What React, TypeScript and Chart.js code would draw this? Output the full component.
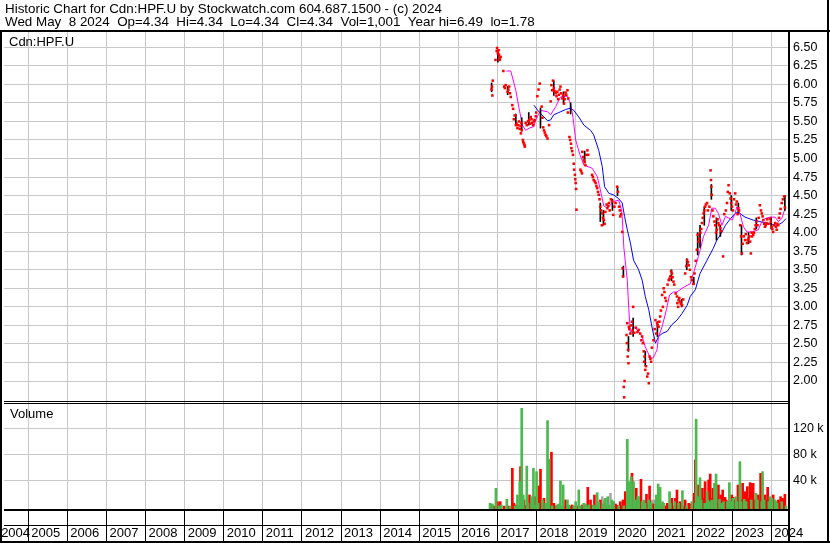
import React, { useEffect, useRef } from "react";
import { Chart, registerables } from "chart.js";

Chart.register(...registerables);

// ---------- text ----------
const headerLine1 = "Historic Chart for Cdn:HPF.U by Stockwatch.com 604.687.1500 - (c) 2024";
const headerLine2 = "Wed May  8 2024  Op=4.34  Hi=4.34  Lo=4.34  Cl=4.34  Vol=1,001  Year hi=6.49  lo=1.78";
const priceLabel = "Cdn:HPF.U";
const volumeLabel = "Volume";

// ---------- axes ----------
const yearTicks = [2004, 2005, 2006, 2007, 2008, 2009, 2010, 2011, 2012, 2013, 2014, 2015, 2016, 2017, 2018, 2019, 2020, 2021, 2022, 2023, 2024];
const yearLabels = ["2004", "2005", "2006", "2007", "2008", "2009", "2010", "2011", "2012", "2013", "2014", "2015", "2016", "2017", "2018", "2019", "2020", "2021", "2022", "2023", "2024"];
const xMin = 2004.38;
const xMax = 2024.43;
const priceTicks = [2.0, 2.25, 2.5, 2.75, 3.0, 3.25, 3.5, 3.75, 4.0, 4.25, 4.5, 4.75, 5.0, 5.25, 5.5, 5.75, 6.0, 6.25, 6.5];
const priceMin = 1.717;
const priceMax = 6.706;
const volumeTicks = [40000, 80000, 120000];
const volumeMin = -4150;
const volumeMax = 160460;

// ---------- daily closes (red marks) ----------
const closeYears = [
  2016.85, 2016.86, 2016.87, 2016.88, 2016.95, 2016.98, 2016.99, 2017.01, 2017.03, 2017.04,
  2017.05, 2017.06, 2017.08, 2017.15, 2017.17, 2017.19, 2017.21, 2017.26, 2017.28, 2017.30,
  2017.32, 2017.34, 2017.38, 2017.40, 2017.42, 2017.44, 2017.47, 2017.49, 2017.51, 2017.53,
  2017.55, 2017.57, 2017.59, 2017.60, 2017.61, 2017.62, 2017.65, 2017.66, 2017.68, 2017.69,
  2017.70, 2017.72, 2017.75, 2017.78, 2017.81, 2017.83, 2017.85, 2017.87, 2017.89, 2017.91,
  2017.93, 2017.95, 2017.98, 2017.99, 2018.02, 2018.05, 2018.08, 2018.13, 2018.15, 2018.17,
  2018.19, 2018.21, 2018.23, 2018.25, 2018.28, 2018.32, 2018.36, 2018.38, 2018.40, 2018.42,
  2018.44, 2018.46, 2018.49, 2018.51, 2018.53, 2018.55, 2018.57, 2018.59, 2018.61, 2018.63,
  2018.66, 2018.68, 2018.70, 2018.72, 2018.74, 2018.76, 2018.79, 2018.80, 2018.81, 2018.84,
  2018.86, 2018.88, 2018.89, 2018.91, 2018.93, 2018.95, 2018.96, 2018.98, 2018.99, 2019.00,
  2019.01, 2019.02, 2019.12, 2019.14, 2019.16, 2019.17, 2019.19, 2019.21, 2019.23, 2019.25,
  2019.27, 2019.30, 2019.32, 2019.42, 2019.44, 2019.46, 2019.49, 2019.51, 2019.53, 2019.55,
  2019.57, 2019.59, 2019.61, 2019.63, 2019.65, 2019.67, 2019.68, 2019.70, 2019.72, 2019.74,
  2019.76, 2019.79, 2019.81, 2019.83, 2019.85, 2019.87, 2019.90, 2019.93, 2019.96, 2019.99,
  2020.02, 2020.06, 2020.08, 2020.11, 2020.13, 2020.14, 2020.16, 2020.19, 2020.20, 2020.21,
  2020.23, 2020.24, 2020.25, 2020.30, 2020.31, 2020.32, 2020.33, 2020.34, 2020.35, 2020.36,
  2020.37, 2020.40, 2020.42, 2020.44, 2020.46, 2020.47, 2020.50, 2020.54, 2020.58, 2020.61,
  2020.65, 2020.68, 2020.70, 2020.72, 2020.74, 2020.75, 2020.76, 2020.78, 2020.80, 2020.83,
  2020.85, 2020.87, 2020.89, 2020.91, 2020.93, 2020.95, 2020.99, 2021.02, 2021.04, 2021.06,
  2021.08, 2021.10, 2021.12, 2021.14, 2021.16, 2021.18, 2021.21, 2021.23, 2021.25, 2021.27,
  2021.29, 2021.31, 2021.35, 2021.38, 2021.40, 2021.42, 2021.44, 2021.46, 2021.48, 2021.50,
  2021.52, 2021.56, 2021.59, 2021.60, 2021.62, 2021.63, 2021.65, 2021.67, 2021.69, 2021.72,
  2021.75, 2021.80, 2021.83, 2021.85, 2021.87, 2021.89, 2021.92, 2021.95, 2021.97, 2022.01,
  2022.04, 2022.07, 2022.10, 2022.12, 2022.14, 2022.16, 2022.19, 2022.21, 2022.23, 2022.25,
  2022.27, 2022.29, 2022.31, 2022.33, 2022.36, 2022.38, 2022.42, 2022.45, 2022.46, 2022.47,
  2022.48, 2022.50, 2022.52, 2022.55, 2022.57, 2022.59, 2022.61, 2022.63, 2022.65, 2022.67,
  2022.70, 2022.72, 2022.77, 2022.80, 2022.84, 2022.87, 2022.89, 2022.91, 2022.94, 2022.96,
  2022.98, 2023.00, 2023.02, 2023.05, 2023.08, 2023.10, 2023.12, 2023.14, 2023.16, 2023.18,
  2023.21, 2023.23, 2023.25, 2023.27, 2023.30, 2023.33, 2023.35, 2023.38, 2023.40, 2023.42,
  2023.44, 2023.46, 2023.48, 2023.50, 2023.51, 2023.54, 2023.56, 2023.58, 2023.60, 2023.62,
  2023.65, 2023.68, 2023.71, 2023.74, 2023.76, 2023.78, 2023.80, 2023.82, 2023.84, 2023.86,
  2023.88, 2023.90, 2023.93, 2023.97, 2023.99, 2024.01, 2024.03, 2024.05, 2024.07, 2024.10,
  2024.12, 2024.14, 2024.16, 2024.18, 2024.20, 2024.22, 2024.24, 2024.27, 2024.30, 2024.33,
  2024.35,
];
const closePrices = [
  5.93, 5.97, 5.85, 6.05, 6.33, 6.45, 6.49, 6.42, 6.46, 6.40,
  6.36, 6.33, 6.37, 6.18, 5.97, 5.95, 5.99, 5.90, 5.93, 5.97,
  5.88, 5.83, 5.72, 5.67, 5.53, 5.58, 5.45, 5.47, 5.41, 5.45,
  5.50, 5.40, 5.44, 5.34, 5.48, 5.38, 5.25, 5.22, 5.20, 5.18,
  5.16, 5.48, 5.45, 5.50, 5.52, 5.47, 5.56, 5.53, 5.48, 5.45,
  5.50, 5.52, 5.57, 5.62, 5.84, 5.93, 6.01, 5.70, 5.55, 5.42,
  5.38, 5.35, 5.32, 5.30, 5.27, 5.45, 5.77, 5.99, 5.92, 6.05,
  5.95, 5.91, 5.88, 5.84, 5.90, 5.80, 5.86, 5.93, 5.97, 5.88,
  5.81, 5.85, 5.74, 5.80, 5.89, 5.86, 5.92, 5.62, 5.81, 5.29,
  5.25, 5.20, 5.14, 5.10, 5.05, 4.93, 4.85, 4.78, 4.72, 4.67,
  4.59, 4.31, 4.85, 4.83, 4.80, 5.09, 5.02, 4.98, 4.95, 4.91,
  5.05, 5.11, 5.05, 4.78, 4.75, 4.71, 4.69, 4.67, 4.63, 4.60,
  4.55, 4.51, 4.45, 4.35, 4.30, 4.10, 4.26, 4.20, 4.17, 4.12,
  4.28, 4.38, 4.33, 4.36, 4.40, 4.30, 4.45, 4.42, 4.24, 4.35,
  4.40, 4.62, 4.55, 4.35, 4.30, 4.22, 4.25, 4.01, 3.52, 3.41,
  1.92, 1.78, 2.00, 2.62, 2.51, 2.78, 2.33, 2.42, 2.24, 2.73,
  2.70, 2.64, 2.75, 2.80, 2.68, 3.00, 2.65, 2.72, 2.66, 2.69,
  2.64, 2.55, 2.60, 2.51, 2.40, 2.26, 2.33, 2.15, 2.20, 2.06,
  2.10, 1.97, 2.33, 2.30, 2.26, 2.45, 2.55, 2.70, 2.82, 2.64,
  2.78, 2.75, 2.73, 2.80, 2.87, 2.95, 3.16, 3.00, 3.25, 3.20,
  3.12, 3.08, 3.30, 3.36, 3.38, 3.41, 3.48, 3.45, 3.40, 3.34,
  3.30, 3.18, 3.14, 3.05, 3.00, 3.09, 3.12, 3.07, 3.04, 3.02,
  3.10, 3.45, 3.55, 3.63, 3.60, 3.56, 3.50, 3.40, 3.36, 3.31,
  3.45, 3.62, 3.77, 3.97, 3.88, 3.92, 4.00, 4.05, 4.13, 4.20,
  4.26, 4.30, 4.35, 4.38, 4.40, 4.30, 4.35, 4.84, 4.71, 4.62,
  4.51, 4.30, 4.22, 4.15, 4.10, 4.00, 4.04, 4.18, 4.13, 4.10,
  4.06, 4.02, 3.68, 4.25, 4.30, 4.40, 4.55, 4.64, 4.53, 4.46,
  4.40, 4.35, 4.30, 4.45, 4.53, 4.38, 4.42, 4.25, 4.33, 4.30,
  4.10, 3.95, 3.72, 3.85, 3.95, 3.90, 3.98, 3.86, 3.90, 3.92,
  3.95, 3.88, 3.72, 4.00, 3.95, 3.97, 4.00, 4.05, 4.10, 4.15,
  4.10, 4.20, 4.37, 4.30, 4.26, 4.22, 4.17, 4.12, 4.08, 4.10,
  4.13, 4.18, 4.12, 4.19, 4.15, 4.08, 4.05, 4.01, 4.10, 4.13,
  4.08, 4.04, 4.12, 4.10, 4.20, 4.26, 4.32, 4.40, 4.45, 4.49,
  4.34,
];

// ---------- daily ranges (black hi-lo bars) ----------
const rangeYears = [
  2016.85, 2017.01, 2017.26, 2017.47, 2017.62, 2017.80, 2018.10, 2018.44, 2018.69, 2018.87,
  2019.23, 2019.63, 2019.71, 2019.94, 2020.07, 2020.22, 2020.35, 2020.47, 2020.78, 2021.09,
  2021.45, 2021.71, 2021.84, 2022.02, 2022.12, 2022.18, 2022.29, 2022.47, 2022.60, 2022.70,
  2022.98, 2023.16, 2023.24, 2023.42, 2023.62, 2024.00, 2024.35,
];
const rangeLows = [
  5.90, 6.30, 5.86, 5.45, 5.38, 5.45, 5.41, 5.85, 5.75, 5.60,
  4.95, 4.15, 4.10, 4.30, 4.50, 3.40, 2.40, 2.60, 2.20, 2.60,
  3.35, 3.00, 3.50, 3.30, 3.70, 3.80, 4.10, 4.45, 3.90, 3.95,
  4.30, 4.25, 3.70, 3.85, 4.05, 4.05, 4.30,
];
const rangeHighs = [
  6.02, 6.45, 5.97, 5.60, 5.55, 5.62, 5.68, 6.05, 5.90, 5.75,
  5.10, 4.40, 4.30, 4.45, 4.62, 3.55, 2.60, 2.85, 2.40, 2.80,
  3.50, 3.10, 3.65, 3.40, 4.00, 4.10, 4.35, 4.65, 4.20, 4.10,
  4.50, 4.40, 4.10, 4.00, 4.20, 4.20, 4.50,
];

// ---------- moving averages ----------
const maShortYears = [
  2017.23, 2017.34, 2017.38, 2017.47, 2017.55, 2017.64, 2017.72, 2017.81, 2017.93, 2017.98,
  2018.10, 2018.28, 2018.36, 2018.49, 2018.61, 2018.79, 2018.87, 2018.93, 2019.00, 2019.11,
  2019.21, 2019.42, 2019.55, 2019.63, 2019.72, 2019.81, 2019.97, 2020.10, 2020.17, 2020.19,
  2020.23, 2020.32, 2020.36, 2020.40, 2020.48, 2020.57, 2020.70, 2020.78, 2020.91, 2020.98,
  2021.08, 2021.12, 2021.21, 2021.32, 2021.40, 2021.50, 2021.59, 2021.72, 2021.85, 2021.93,
  2022.01, 2022.14, 2022.27, 2022.40, 2022.48, 2022.57, 2022.65, 2022.74, 2022.83, 2022.91,
  2023.00, 2023.08, 2023.12, 2023.20, 2023.29, 2023.38, 2023.51, 2023.67, 2023.76, 2023.84,
  2023.97, 2024.10, 2024.18, 2024.27, 2024.35,
];
const maShortValues = [
  6.18, 6.18, 6.10, 5.92, 5.68, 5.45, 5.38, 5.41, 5.43, 5.52,
  5.65, 5.63, 5.59, 5.70, 5.83, 5.84, 5.74, 5.56, 5.25, 5.05,
  4.91, 4.87, 4.76, 4.58, 4.36, 4.33, 4.42, 4.44, 4.31, 4.22,
  3.81, 3.36, 2.96, 2.64, 2.73, 2.69, 2.60, 2.46, 2.31, 2.31,
  2.42, 2.60, 2.73, 2.96, 3.16, 3.20, 3.20, 3.25, 3.29, 3.31,
  3.45, 3.68, 3.95, 4.10, 4.33, 4.33, 4.26, 4.10, 4.22, 4.20,
  4.17, 4.26, 4.35, 4.26, 4.08, 4.01, 4.01, 4.04, 4.15, 4.19,
  4.21, 4.21, 4.15, 4.19, 4.32,
];
const maLongYears = [
  2017.93, 2018.06, 2018.19, 2018.28, 2018.36, 2018.44, 2018.57, 2018.74, 2018.87, 2018.95,
  2019.08, 2019.21, 2019.38, 2019.46, 2019.59, 2019.68, 2019.74, 2019.85, 2019.97, 2020.10,
  2020.19, 2020.25, 2020.32, 2020.40, 2020.48, 2020.61, 2020.70, 2020.78, 2020.87, 2020.95,
  2021.04, 2021.12, 2021.21, 2021.34, 2021.46, 2021.59, 2021.72, 2021.85, 2021.93, 2022.06,
  2022.18, 2022.36, 2022.52, 2022.61, 2022.70, 2022.83, 2022.96, 2023.08, 2023.16, 2023.25,
  2023.33, 2023.54, 2023.71, 2023.97, 2024.14, 2024.27, 2024.38,
];
const maLongValues = [
  5.72, 5.63, 5.56, 5.51, 5.52, 5.59, 5.62, 5.66, 5.68, 5.65,
  5.56, 5.45, 5.38, 5.32, 5.11, 4.89, 4.62, 4.53, 4.51, 4.46,
  4.40, 4.22, 4.04, 3.86, 3.63, 3.50, 3.36, 3.14, 2.96, 2.73,
  2.51, 2.60, 2.64, 2.67, 2.76, 2.82, 2.91, 3.02, 3.14, 3.23,
  3.45, 3.63, 3.79, 3.90, 3.97, 4.10, 4.19, 4.26, 4.28, 4.24,
  4.21, 4.17, 4.15, 4.12, 4.10, 4.13, 4.19,
];

// ---------- volume ----------
const volUpYears = [
  2016.81, 2016.87, 2016.96, 2017.04, 2017.10, 2017.24, 2017.32, 2017.45, 2017.51, 2017.57,
  2017.62, 2017.66, 2017.75, 2017.78, 2017.87, 2017.92, 2017.98, 2018.00, 2018.04, 2018.15,
  2018.23, 2018.28, 2018.32, 2018.40, 2018.51, 2018.57, 2018.61, 2018.66, 2018.68, 2018.79,
  2018.83, 2018.95, 2019.00, 2019.08, 2019.12, 2019.21, 2019.25, 2019.28, 2019.34, 2019.45,
  2019.51, 2019.55, 2019.59, 2019.70, 2019.74, 2019.76, 2019.82, 2019.85, 2019.93, 2019.97,
  2020.10, 2020.23, 2020.32, 2020.36, 2020.42, 2020.48, 2020.53, 2020.59, 2020.61, 2020.70,
  2020.74, 2020.78, 2020.87, 2020.93, 2021.04, 2021.06, 2021.11, 2021.13, 2021.16, 2021.22,
  2021.25, 2021.40, 2021.42, 2021.53, 2021.63, 2021.73, 2021.84, 2021.97, 2022.06, 2022.08,
  2022.12, 2022.18, 2022.21, 2022.30, 2022.36, 2022.38, 2022.42, 2022.48, 2022.55, 2022.57,
  2022.59, 2022.68, 2022.74, 2022.78, 2022.88, 2022.93, 2022.97, 2023.02, 2023.10, 2023.12,
  2023.20, 2023.23, 2023.31, 2023.36, 2023.49, 2023.61, 2023.65, 2023.76, 2023.78, 2023.82,
  2023.94, 2023.97, 2024.02, 2024.10, 2024.12, 2024.15, 2024.27, 2024.38,
];
const volUpValues = [
  4600, 3600, 27700, 500, 2000, 10700, 300, 500, 17400, 37900,
  150800, 17400, 62000, 4600, 14800, 58500, 500, 53300, 4600, 9700,
  4600, 131800, 72300, 500, 2000, 3600, 39000, 500, 32800, 9700,
  2000, 500, 7100, 25100, 500, 4600, 3600, 500, 2000, 2000,
  500, 21000, 7100, 3600, 9700, 12300, 14800, 2000, 9700, 7100,
  500, 500, 103000, 37900, 45600, 37900, 9700, 14800, 14800, 7100,
  9700, 4600, 9700, 5600, 2000, 17400, 34300, 9700, 29200, 7100,
  4600, 22500, 4600, 7100, 4600, 24000, 500, 7100, 4600, 134000,
  14800, 44000, 9700, 4600, 22500, 9700, 7100, 9700, 35400, 7100,
  49700, 10700, 4600, 7100, 7100, 36400, 7100, 12300, 14800, 7100,
  68700, 7100, 10700, 7100, 9700, 20000, 9700, 7100, 53300, 9700,
  7100, 14800, 12300, 9700, 7100, 4600, 7100, 500,
];
const volDownYears = [
  2016.83, 2016.85, 2016.91, 2017.00, 2017.07, 2017.17, 2017.27, 2017.38, 2017.42, 2017.48,
  2017.54, 2017.59, 2017.68, 2017.70, 2017.82, 2017.89, 2017.95, 2018.06, 2018.10, 2018.17,
  2018.19, 2018.34, 2018.38, 2018.44, 2018.49, 2018.55, 2018.72, 2018.74, 2018.87, 2018.91,
  2019.04, 2019.17, 2019.31, 2019.38, 2019.42, 2019.48, 2019.63, 2019.79, 2020.02, 2020.06,
  2020.14, 2020.19, 2020.21, 2020.27, 2020.30, 2020.33, 2020.38, 2020.44, 2020.47, 2020.51,
  2020.55, 2020.64, 2020.67, 2020.72, 2020.81, 2020.84, 2020.89, 2020.98, 2021.08, 2021.19,
  2021.29, 2021.34, 2021.38, 2021.46, 2021.50, 2021.55, 2021.59, 2021.67, 2021.70, 2021.76,
  2021.80, 2021.89, 2021.93, 2022.00, 2022.03, 2022.06, 2022.14, 2022.17, 2022.24, 2022.27,
  2022.31, 2022.34, 2022.40, 2022.44, 2022.47, 2022.51, 2022.52, 2022.61, 2022.65, 2022.71,
  2022.76, 2022.82, 2022.85, 2022.91, 2022.99, 2023.03, 2023.08, 2023.15, 2023.18, 2023.25,
  2023.27, 2023.33, 2023.39, 2023.43, 2023.46, 2023.50, 2023.53, 2023.54, 2023.59, 2023.67,
  2023.70, 2023.73, 2023.84, 2023.87, 2023.91, 2024.00, 2024.05, 2024.08, 2024.18, 2024.21,
  2024.24, 2024.29, 2024.32, 2024.35,
];
const volDownValues = [
  500, 2000, 300, 7100, 7100, 300, 500, 58500, 4600, 2000,
  500, 61000, 9700, 1500, 17400, 2000, 14800, 31200, 57000, 4600,
  12300, 7100, 83200, 4600, 500, 2000, 500, 9700, 500, 2000,
  500, 2000, 29200, 9700, 500, 17400, 9700, 500, 3600, 1500,
  7100, 500, 9700, 22500, 9700, 30200, 500, 50800, 9700, 2000,
  27700, 7100, 41500, 2000, 18500, 4600, 31200, 3600, 4600, 500,
  500, 4600, 2000, 12300, 500, 12300, 25100, 7100, 4600, 500,
  9700, 4600, 3600, 500, 20000, 71300, 32800, 7100, 27700, 12300,
  37900, 4600, 40500, 49700, 12300, 27700, 9700, 4600, 32800, 17400,
  25100, 13800, 9700, 4600, 17400, 13800, 9700, 32800, 14800, 9700,
  35400, 22500, 30200, 12300, 36400, 35400, 12300, 35400, 9700, 17400,
  9700, 50800, 17400, 9700, 29200, 9700, 17400, 7100, 9700, 4600,
  14800, 12300, 9700, 18500,
];
const volFlatYears = [2019.68, 2019.89, 2020.95, 2021.01];
const volFlatValues = [14800, 20000, 9700, 9700];

const zip = (xs: number[], ys: number[]) => xs.map((x, i) => ({ x, y: ys[i] }));
const zipRange = (xs: number[], lo: number[], hi: number[]) => xs.map((x, i) => ({ x, y: [lo[i], hi[i]] }));

const FONT = '"Liberation Sans", Arial, sans-serif';
const GRID = "#c8c8c8";

const framePlugin = {
  id: "stockwatchFrame",
  afterDraw(chart: any) {
    const ctx = chart.ctx as CanvasRenderingContext2D;
    const a = chart.chartArea;
    const W = chart.width;
    const H = chart.height;
    const yv = chart.scales.yv;
    ctx.save();
    ctx.fillStyle = "#000";
    ctx.fillRect(0, a.top - 2, W, 2);
    ctx.fillRect(0, a.top - 2, 2, H - a.top + 2);
    ctx.fillRect(W - 3, 0, 2, H);
    ctx.fillRect(a.right, a.top - 2, 2, H - a.top + 2);
    ctx.fillRect(a.left, yv.top - 1, a.right - a.left, 1);
    ctx.fillRect(a.left, yv.top + 1, a.right - a.left, 1);
    ctx.fillRect(a.left, a.bottom, a.right - a.left, 2);
    ctx.fillRect(a.left, a.bottom + 16, a.right - a.left, 1);
    ctx.fillRect(0, H - 2, W, 2);

    ctx.font = `13.4px ${FONT}`;
    ctx.textBaseline = "alphabetic";
    ctx.textAlign = "left";
    ctx.fillText(headerLine1, 5, 12.5);
    ctx.fillText(headerLine2, 5, 26);
    ctx.font = `13px ${FONT}`;
    ctx.fillText(priceLabel, 9, a.top + 14);
    ctx.fillText(volumeLabel, 10, yv.top + 16);
    ctx.restore();
  },
};

export default function App() {
  const canvasRef = useRef<HTMLCanvasElement>(null);

  useEffect(() => {
    const canvas = canvasRef.current;
    if (!canvas) return;
    const chart = new Chart(canvas, {
      type: "scatter",
      data: {
        datasets: [
          {
            type: "scatter",
            label: "Close",
            data: zip(closeYears, closePrices),
            yAxisID: "y",
            pointStyle: "rect",
            pointRadius: 1.8,
            borderWidth: 0,
            backgroundColor: "#ff0000",
          } as any,
          {
            type: "bar",
            label: "Range",
            data: zipRange(rangeYears, rangeLows, rangeHighs),
            yAxisID: "y",
            backgroundColor: "#000000",
            barThickness: 1,
            grouped: false,
          } as any,
          {
            type: "line",
            label: "MA short",
            data: zip(maShortYears, maShortValues),
            yAxisID: "y",
            borderColor: "#ff00ff",
            borderWidth: 1,
            pointRadius: 0,
            tension: 0,
            fill: false,
          } as any,
          {
            type: "line",
            label: "MA long",
            data: zip(maLongYears, maLongValues),
            yAxisID: "y",
            borderColor: "#0000ff",
            borderWidth: 1,
            pointRadius: 0,
            tension: 0,
            fill: false,
          } as any,
          {
            type: "bar",
            label: "Volume up",
            data: zip(volUpYears, volUpValues),
            yAxisID: "yv",
            backgroundColor: "#4db84d",
            barThickness: 2,
            grouped: false,
            base: volumeMin,
          } as any,
          {
            type: "bar",
            label: "Volume down",
            data: zip(volDownYears, volDownValues),
            yAxisID: "yv",
            backgroundColor: "#ff0000",
            barThickness: 2,
            grouped: false,
            base: volumeMin,
          } as any,
          {
            type: "bar",
            label: "Volume flat",
            data: zip(volFlatYears, volFlatValues),
            yAxisID: "yv",
            backgroundColor: "#a8a8a8",
            barThickness: 2,
            grouped: false,
            base: volumeMin,
          } as any,
        ],
      },
      options: {
        responsive: false,
        animation: false,
        events: [],
        layout: { padding: { top: 32, left: 2, right: 2, bottom: 0 } },
        plugins: { legend: { display: false }, tooltip: { enabled: false }, title: { display: false } },
        scales: {
          x: {
            type: "linear",
            position: "bottom",
            min: xMin,
            max: xMax,
            offset: false,
            afterBuildTicks: (s: any) => {
              s.ticks = yearTicks.map((v) => ({ value: v < s.min ? s.min - 0.15 : v }));
            },
            afterFit: (s: any) => {
              s.height = 34;
            },
            grid: { color: GRID, tickColor: "#000", tickLength: 34, lineWidth: 1, offset: false },
            border: { display: false },
            ticks: {
              autoSkip: false,
              maxRotation: 0,
              minRotation: 0,
              align: "start",
              labelOffset: 3,
              padding: -17,
              color: "#000",
              font: { family: FONT, size: 13 },
              callback: (_v: any, i: number) => yearLabels[i],
            },
          },
          y: {
            type: "linear",
            position: "right",
            stack: "panels",
            stackWeight: 370,
            min: priceMin,
            max: priceMax,
            afterBuildTicks: (s: any) => {
              s.ticks = priceTicks.map((v) => ({ value: v }));
            },
            afterFit: (s: any) => {
              s.width = 40;
            },
            grid: { color: GRID, drawTicks: false, lineWidth: 1 },
            border: { display: false },
            ticks: {
              autoSkip: false,
              padding: 5,
              color: "#000",
              font: { family: FONT, size: 12.5 },
              callback: (v: any) => Number(v).toFixed(2),
            },
          },
          yv: {
            type: "linear",
            position: "right",
            stack: "panels",
            stackWeight: 107,
            min: volumeMin,
            max: volumeMax,
            afterBuildTicks: (s: any) => {
              s.ticks = volumeTicks.map((v) => ({ value: v }));
            },
            afterFit: (s: any) => {
              s.width = 40;
            },
            grid: { color: GRID, drawTicks: false, lineWidth: 1 },
            border: { display: false },
            ticks: {
              autoSkip: false,
              padding: 5,
              color: "#000",
              font: { family: FONT, size: 12.5 },
              callback: (v: any) => `${Math.round(Number(v) / 1000)} k`,
            },
          },
        },
      } as any,
      plugins: [framePlugin],
    });
    return () => chart.destroy();
  }, []);

  return (
    <div style={{ position: "fixed", left: 0, top: 0, width: 830, height: 543, background: "#ffffff" }}>
      <canvas ref={canvasRef} width={830} height={543} style={{ display: "block", width: 830, height: 543 }} />
    </div>
  );
}
